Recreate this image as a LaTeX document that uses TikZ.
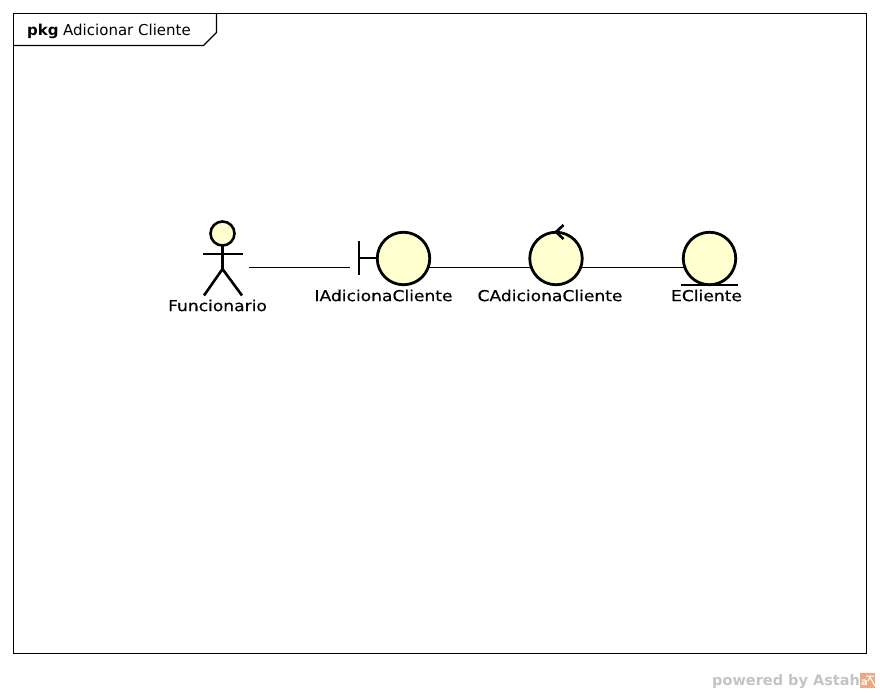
\documentclass[tikz,border=0pt]{standalone}
\usepackage{fontspec}
\setmainfont{DejaVu Sans}
\newfontfamily\lblfont[FakeStretch=1.14,FakeBold=0.4]{DejaVu Sans}
\definecolor{fillyellow}{HTML}{FFFFD0}
\definecolor{wmgray}{HTML}{C4C4C4}
\definecolor{wmicon}{HTML}{F0A884}
\tikzset{
  thing/.style={circle,draw=black,line width=2.8pt,fill=fillyellow,minimum size=52.5pt,inner sep=0pt,outer sep=0pt},
  stroke/.style={draw=black,line width=2.6pt},
  assoc/.style={draw=black,line width=1.2pt},
  lbl/.style={inner sep=0pt,font=\lblfont\fontsize{15}{17}\selectfont,text=black},
  port/.style={inner sep=0pt,outer sep=0pt,minimum width=#1,minimum height=4pt}
}
\begin{document}
\begin{tikzpicture}[x=1pt,y=-1pt]
\useasboundingbox (0,0) rectangle (880,693);
\fill[white] (0,0) rectangle (880,693);
% frame
\draw[black,line width=1.2pt] (13.5,13.5) rectangle (866.5,653.5);
\draw[black,line width=1.2pt] (13.5,45.5) -- (203.5,45.5) -- (216.5,32.5) -- (216.5,13.5);
\node[anchor=base west,inner sep=0pt,font=\fontsize{15}{17}\selectfont\bfseries] (kw) at (27,36) {pkg};
\node[anchor=base west,inner sep=0pt,font=\fontsize{15}{17}\selectfont] (title) at (63,36) {Adicionar Cliente};
% invisible ports for connectors
\node[port=53pt] (actor) at (222.5,267.5) {};
\node[port=18pt] (bndbar) at (359,267.5) {};
% things
\node[thing] (bnd) at (403.5,258.5) {};
\node[thing] (ctl) at (556,258.5) {};
\node[thing] (ent) at (709.5,258.5) {};
% connectors
\draw[assoc] (actor.east) -- (bndbar.west);
\draw[assoc] (bnd.-20) -- (ctl.200);
\draw[assoc] (ctl.-20) -- (ent.200);
% actor
\draw[stroke,fill=fillyellow] (222.5,233.5) circle (12pt);
\draw[stroke] (222.5,245.5) -- (222.5,269);
\draw[stroke] (203,254) -- (243,254);
\draw[stroke] (204,295.5) -- (222.5,269) -- (242,295.5);
\node[lbl] (actorlabel) at (217.5,305.5) {Funcionario};
% boundary
\draw[stroke] (359,241) -- (359,275);
\draw[stroke] (359,258) -- (bnd.west |- 0,258);
\node[lbl] (bndlabel) at (383.5,295.5) {IAdicionaCliente};
% control
\draw[stroke] (563.5,225) -- (556,232) -- (563.5,239);
\node[lbl] (ctllabel) at (550,295.5) {CAdicionaCliente};
% entity
\draw[stroke] (681,285) -- (738,285);
\node[lbl] (entlabel) at (706.5,295.5) {ECliente};
% watermark
\node[anchor=base west,inner sep=0pt,font=\fontsize{14.5}{16}\selectfont\bfseries,text=wmgray] (wm) at (712,685) {powered by Astah};
\fill[wmicon] (860,673) rectangle (875,688);
\node[inner sep=0pt,font=\fontsize{10}{10}\selectfont\bfseries,text=white] (wma) at (864.5,683) {a};
\draw[white,line width=1pt] (866,676) -- (874,676) (870.5,676) -- (868,681) (870.5,678) -- (875,686);
\end{tikzpicture}
\end{document}
